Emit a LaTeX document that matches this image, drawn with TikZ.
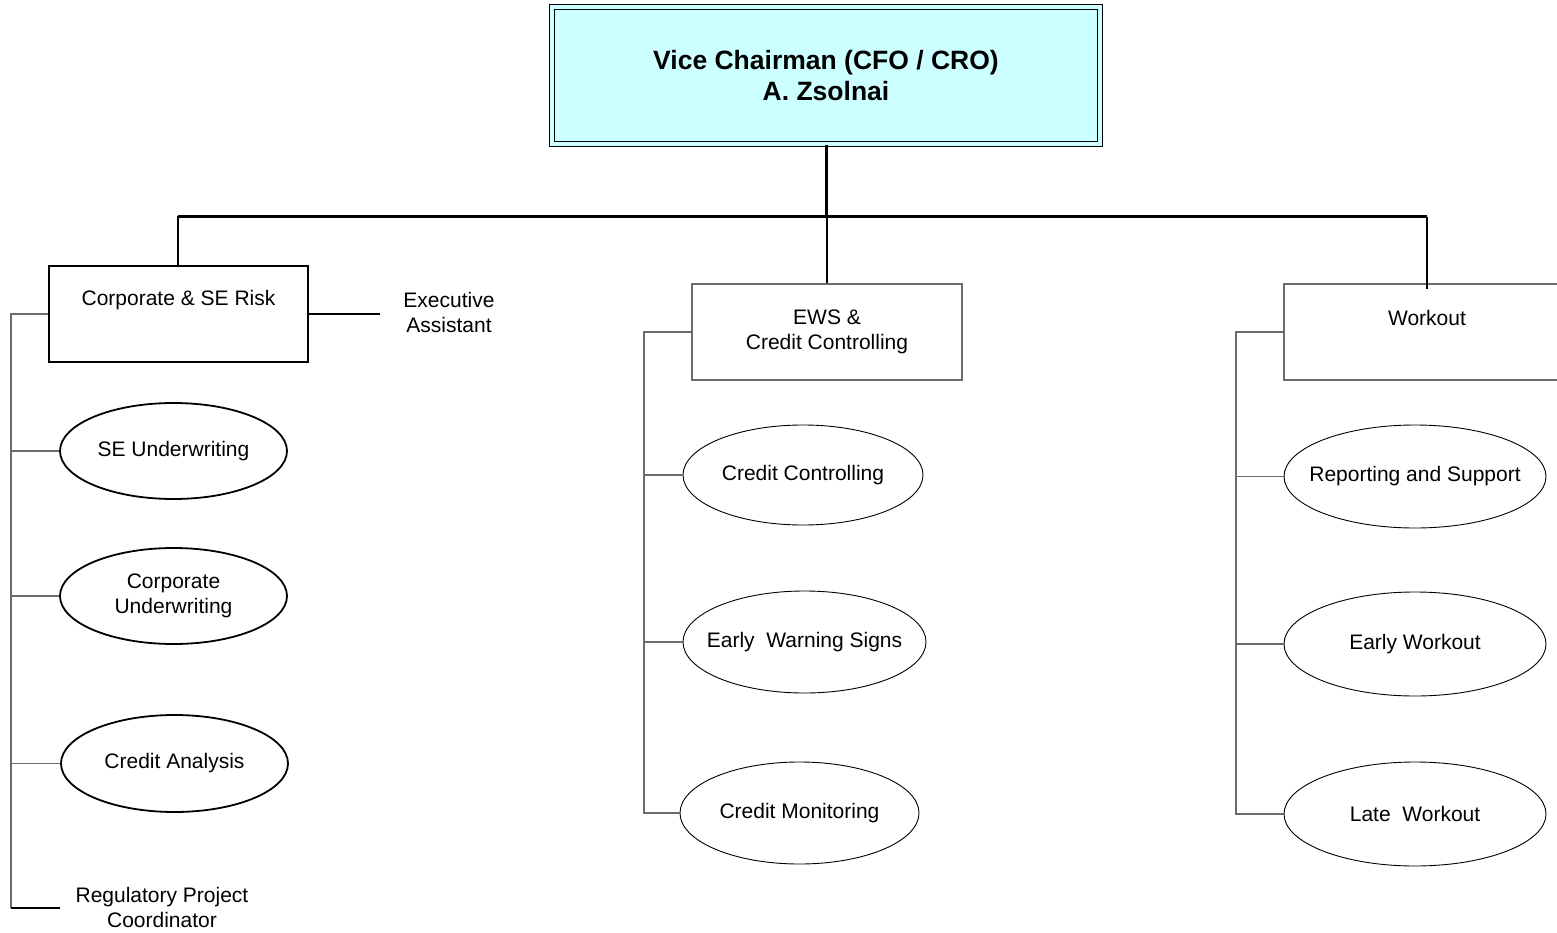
\documentclass[tikz,border=0pt]{standalone}
\usepackage{fontspec}
\setmainfont{Liberation Sans}
\usetikzlibrary{shapes.geometric}
\definecolor{headfill}{HTML}{CCFFFF}
\definecolor{linegray}{gray}{0.42}
\begin{document}
\begin{tikzpicture}[x=1pt,y=-1pt,
  txt/.style={font=\fontsize{21}{25.5}\selectfont, align=center, inner sep=2pt},
  head/.style={draw=black, line width=1.4pt, double=headfill, double distance=4pt, fill=headfill,
    minimum width=548pt, minimum height=137pt, inner sep=0pt, align=center,
    font=\bfseries\fontsize{26.5}{31}\selectfont},
  unitbox/.style={draw=linegray, line width=1.5pt, minimum height=96pt, inner sep=0pt, txt},
  subell/.style={ellipse, draw=black, line width=1.8pt, txt, inner xsep=-45pt, inner ysep=-10pt},
  subellthin/.style={ellipse, draw=black, line width=0.9pt, txt, inner xsep=-45pt, inner ysep=-10pt},
  conn/.style={draw=linegray, line width=1.3pt},
  bus/.style={draw=black, line width=3pt},
  stem/.style={draw=black, line width=2pt}]
\useasboundingbox (0,0) rectangle (1557,933);

% head
\node[head] (vc) at (826,75.5) {Vice Chairman (CFO / CRO)\\A. Zsolnai};

% units
\node[unitbox, draw=black, line width=1.8pt, minimum width=259pt,
  label={[txt, yshift=14pt]center:Corporate \& SE Risk}] (cse) at (178.5,314) {};
\node[unitbox, minimum width=270pt] (ewsb) at (827,332) {EWS \&\\Credit Controlling};
\node[unitbox, minimum width=300pt,
  label={[txt, yshift=14pt, xshift=-7pt]center:Workout}] (wo) at (1434,332) {};

% top connectors
\coordinate (busL) at (178,217);
\coordinate (busR) at (1427,217);
\draw[bus] (vc.south) -- (vc.south |- busL);
\draw[bus] (busL) -- (busR);
\draw[stem] ([yshift=1pt]busL) -- (cse.north -| busL);
\draw[stem] (ewsb.north |- busL) -- (ewsb.north);
\draw[stem] (busR) -- ([yshift=-6pt]wo.north -| busR);

% left column
\node[txt] (ea) at (449,312.5) {Executive\\Assistant};
\draw[stem] (cse.east) -- ([xshift=-21pt]ea.west |- cse.east);

\node[subell, minimum width=227pt, minimum height=96pt] (se) at (173.5,451) {SE Underwriting};
\node[subell, minimum width=227pt, minimum height=96pt] (cu) at (173.5,596) {Corporate\\Underwriting};
\node[subell, minimum width=227pt, minimum height=97pt] (ca) at (174.5,763.5) {Credit Analysis};
\node[txt] (rpc) at (162,907.5) {Regulatory Project\\Coordinator};

\coordinate (lt) at (11,314);
\coordinate (lb) at (11,908);
\draw[conn] (cse.west) -- (lt) -- (lb);
\draw[conn] (se.west) -- (se.west -| lt);
\draw[conn] (cu.west) -- (cu.west -| lt);
\draw[conn] (ca.west) -- (ca.west -| lt);
\draw[stem] (lb) -- ([xshift=-13pt]rpc.west |- lb);

% middle column
\node[subellthin, minimum width=240pt, minimum height=100pt] (cc) at (803,475) {Credit Controlling};
\node[subellthin, minimum width=243pt, minimum height=102pt] (ewsig) at (804.5,642) {Early\ \ Warning Signs};
\node[subellthin, minimum width=239pt, minimum height=102pt] (cm) at (799.5,813) {Credit Monitoring};
\coordinate (mt) at (644,332);
\draw[conn] (ewsb.west) -- (mt) -- (cm.west -| mt) -- (cm.west);
\draw[conn] (cc.west) -- (cc.west -| mt);
\draw[conn] (ewsig.west) -- (ewsig.west -| mt);

% right column
\node[subellthin, minimum width=262pt, minimum height=103pt] (rs) at (1415,476.5) {Reporting and Support};
\node[subellthin, minimum width=262pt, minimum height=104pt] (ewo) at (1415,644) {Early Workout};
\node[subellthin, minimum width=262pt, minimum height=104pt] (lwo) at (1415,814) {Late\ \ Workout};
\coordinate (rt) at (1236,332);
\draw[conn] (wo.west) -- (rt) -- (lwo.west -| rt) -- (lwo.west);
\draw[conn] (rs.west) -- (rs.west -| rt);
\draw[conn] (ewo.west) -- (ewo.west -| rt);
\end{tikzpicture}
\end{document}
